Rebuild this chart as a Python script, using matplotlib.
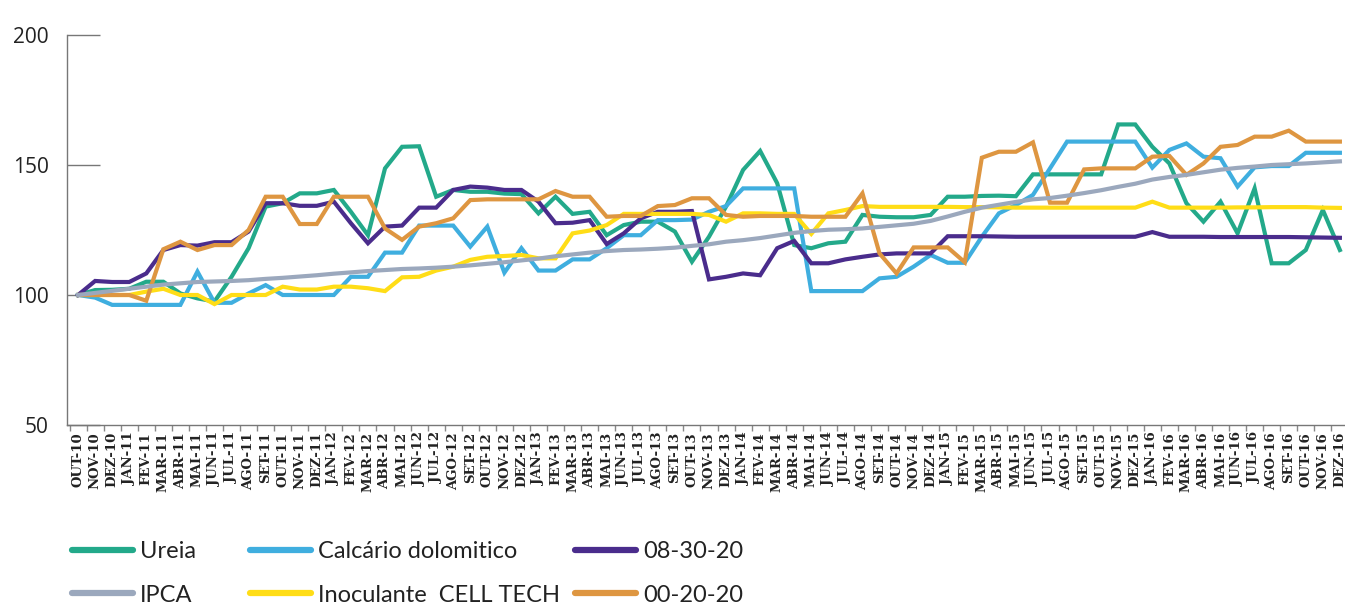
import matplotlib
matplotlib.use('Agg')
import matplotlib.pyplot as plt
from matplotlib.ticker import FixedLocator, NullFormatter

months = ['OUT', 'NOV', 'DEZ', 'JAN', 'FEV', 'MAR', 'ABR', 'MAI', 'JUN', 'JUL', 'AGO', 'SET']
years = ['10', '11', '12', '13', '14', '15', '16']

ureia = [100, 101.9, 102, 102.4, 105.1, 105.1, 100.6, 98.7, 97.5, 107,
         118, 134, 135.3, 139.1, 139.1, 140.4, 132, 123, 148.7, 157,
         157.2, 137.8, 140.4, 139.7, 139.7, 139, 138.8, 131.4, 137.8, 131.2,
         132, 123, 126.9, 128.2, 128.2, 124.4, 112.8, 122.4, 134, 148.1,
         155.4, 143, 119.2, 118, 119.9, 120.5, 130.8, 130.1, 129.9, 129.9,
         130.8, 137.8, 137.8, 138.1, 138.2, 138, 146.4, 146.4, 146.4, 146.4,
         146.4, 165.6, 165.6, 157, 150.6, 135.3, 128.2, 135.9, 123.7, 141,
         112.2, 112.2, 117.3, 132.7, 117.3]
calcario = [100, 99, 96.2, 96.2, 96.2, 96.2, 96.2, 109, 97, 97,
            100.6, 103.8, 100, 100, 100, 100, 107, 107, 116.3, 116.3,
            126.7, 126.7, 126.7, 118.6, 126.3, 108.6, 118, 109.4, 109.4, 113.7,
            113.7, 118, 123, 123, 128.8, 128.8, 129, 132, 134.2, 141,
            141, 141, 141, 101.5, 101.5, 101.5, 101.5, 106.4, 107, 110.9,
            115.4, 112.4, 112.4, 122.4, 131.4, 134.6, 138.5, 148.7, 159, 159,
            159, 159, 159, 149, 155.8, 158.3, 153.2, 152.6, 141.7, 149.1,
            149.6, 149.6, 154.7, 154.7, 154.7]
npk_083020 = [100, 105.4, 105, 105, 108.3, 117.3, 119.2, 119, 120.3, 120.3,
              124.4, 135.3, 135.3, 134.3, 134.3, 135.9, 127.6, 119.9, 126.3, 126.7,
              133.6, 133.6, 140.4, 141.7, 141.3, 140.4, 140.4, 135.9, 127.6, 127.8,
              128.8, 119.6, 123.7, 129.5, 132, 132, 132.3, 106, 107, 108.3,
              107.6, 118, 120.8, 112.2, 112.2, 113.7, 114.7, 115.6, 116, 116,
              116, 122.6, 122.6, 122.6, 122.5, 122.4, 122.4, 122.4, 122.4, 122.4,
              122.4, 122.4, 122.4, 124.2, 122.4, 122.4, 122.4, 122.3, 122.3, 122.3,
              122.3, 122.3, 122.2, 122.1, 122]
ipca = [100, 100.8, 101.6, 102.4, 103.2, 104, 104.5, 105, 105.2, 105.4,
        105.7, 106.2, 106.6, 107.1, 107.6, 108.2, 108.7, 109.2, 109.6, 110,
        110.2, 110.5, 110.9, 111.4, 112, 112.6, 113.3, 114, 114.9, 115.6,
        116.3, 116.9, 117.3, 117.5, 117.8, 118.2, 118.9, 119.5, 120.5, 121.1,
        121.9, 122.9, 123.9, 124.6, 125.1, 125.3, 125.6, 126.2, 126.8, 127.4,
        128.5, 130.2, 132, 133.6, 134.7, 135.8, 136.8, 137.3, 138.2, 139.2,
        140.3, 141.6, 142.8, 144.4, 145.4, 146.2, 147.2, 148.2, 148.9, 149.4,
        150, 150.3, 150.6, 151, 151.4]
inoculante = [100, 100, 100, 100, 101.3, 102.4, 100, 100, 96.5, 100,
              100, 100, 103.2, 102.1, 102.1, 103.2, 103.2, 102.6, 101.5, 106.8,
              107, 109.4, 110.9, 113.5, 114.7, 115, 115.4, 114.1, 114.1, 123.7,
              124.8, 126.9, 131.2, 131.2, 131.2, 131.2, 131.2, 130.8, 128.2, 131.4,
              131.4, 131.2, 131.2, 123.5, 131.4, 132.7, 134.2, 133.9, 133.9, 133.9,
              133.9, 133.9, 133.8, 133.8, 133.7, 133.6, 133.6, 133.6, 133.6, 133.6,
              133.6, 133.6, 133.6, 135.9, 133.6, 133.6, 133.6, 133.6, 133.7, 133.7,
              133.8, 133.8, 133.8, 133.6, 133.5]
npk_002020 = [100, 100, 100, 100, 97.8, 117.6, 120.5, 117.3, 119.2, 119.2,
              125, 137.8, 137.8, 127.3, 127.3, 137.8, 137.8, 137.8, 125.6, 121.2,
              126.3, 127.6, 129.5, 136.5, 136.8, 136.8, 136.8, 136.8, 140, 137.8,
              137.8, 130.1, 130.4, 130.4, 134.2, 134.6, 137.2, 137.2, 130.8, 130.1,
              130.4, 130.4, 130.4, 130.1, 130.1, 130.1, 139.1, 116, 108.3, 118.3,
              118.3, 118.3, 112.6, 152.8, 155.1, 155.1, 158.7, 135.5, 135.5, 148.3,
              148.7, 148.7, 148.7, 153.2, 153.5, 146.2, 150.6, 157, 157.7, 160.9,
              160.9, 163.2, 159, 159, 159]

y_ticks = [50, 100, 150, 200]


def month_labels():
    labels = []
    year = 0
    for k in range(75):
        m = months[k % 12]
        if m == 'JAN':
            year += 1
        labels.append(m + '-' + years[year])
    return labels


def main():
    labels = month_labels()
    x = list(range(len(labels)))

    fig = plt.figure(figsize=(13.45, 6.07), dpi=100)
    ax = fig.add_axes([67 / 1345, 1 - 425 / 607, 1 - 67 / 1345, (425 - 35) / 607])

    series = [
        ('Ureia', ureia, '#23A98A'),
        ('Calcário dolomitico', calcario, '#3FAEDF'),
        ('08-30-20', npk_083020, '#4A2C8C'),
        ('Inoculante  CELL TECH', inoculante, '#FFDD17'),
        ('00-20-20', npk_002020, '#DE9641'),
        ('IPCA', ipca, '#9BA8BD'),
    ]
    lines = {}
    for name, vals, color in series:
        ln, = ax.plot(x, vals, color=color, linewidth=3.0, solid_joinstyle='miter',
                      label=name)
        lines[name] = ln

    ax.set_ylim(50, 200)
    ax.set_xlim(-0.65, 74.3)
    ax.set_yticks(y_ticks)
    ax.set_yticklabels([str(v) for v in y_ticks], fontsize=15, family='Open Sans', color='#222222')
    ax.tick_params(axis='y', direction='in', length=24, width=1.0, color='#777777', pad=13)

    ax.set_xticks(x)
    ax.set_xticklabels(labels, rotation=90, fontsize=9.5, family='DejaVu Serif',
                       fontweight='bold', color='#222222')
    ax.tick_params(axis='x', which='major', length=0, pad=5)
    ax.xaxis.set_minor_locator(FixedLocator([i - 0.5 for i in range(76)]))
    ax.xaxis.set_minor_formatter(NullFormatter())
    ax.tick_params(axis='x', which='minor', direction='out', length=4, width=1.0, color='#888888')

    for side in ['top', 'right']:
        ax.spines[side].set_visible(False)
    for side in ['left', 'bottom']:
        ax.spines[side].set_color('#777777')
        ax.spines[side].set_linewidth(1.0)

    # legend: three columns placed by hand
    cols = [(['Ureia', 'IPCA'], 72), (['Calcário dolomitico', 'Inoculante  CELL TECH'], 250),
            (['08-30-20', '00-20-20'], 575)]
    for names, xpos in cols:
        handles = [plt.Line2D([], [], color=lines[n].get_color(), linewidth=4.5,
                              solid_capstyle='round') for n in names]
        leg = fig.legend(handles, names, loc='center left', bbox_to_anchor=(xpos / 1345, 1 - 573.5 / 607),
                         frameon=False, borderpad=0, handlelength=2.6, handletextpad=0.28,
                         labelspacing=0.95, borderaxespad=0,
                         prop={'family': ['Lato', 'DejaVu Sans'], 'size': 17})
        for t in leg.get_texts():
            t.set_color('#222222')

    plt.savefig('out.png')
    plt.close()


if __name__ == '__main__':
    main()
